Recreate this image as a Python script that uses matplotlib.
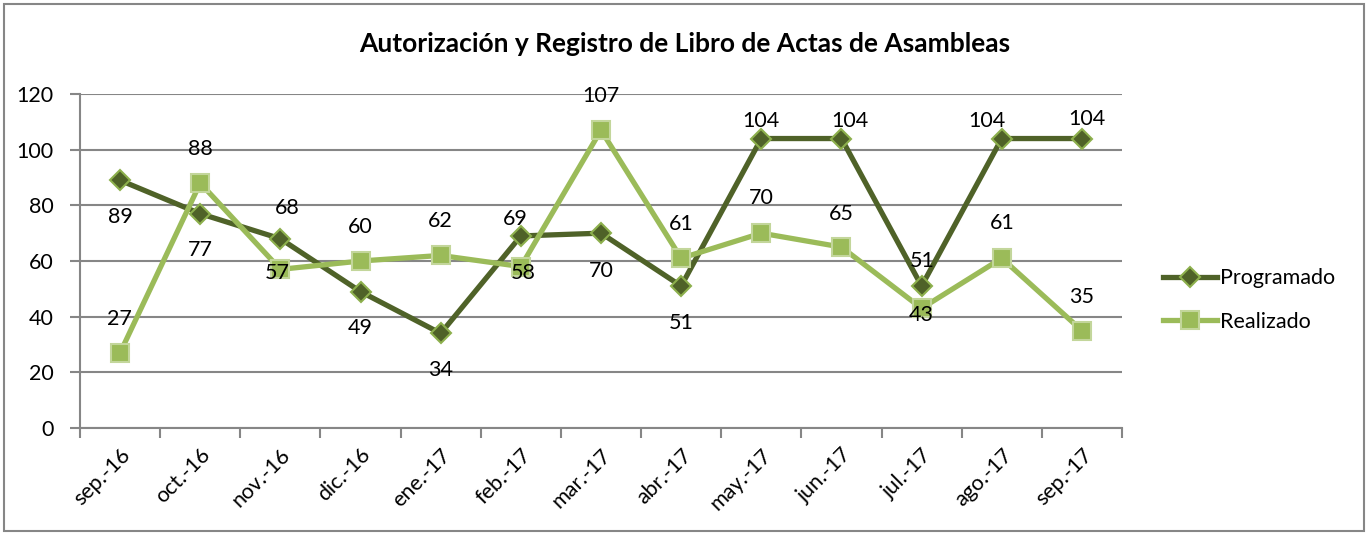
import matplotlib.pyplot as plt
from matplotlib.patches import Rectangle

meses = ["sep.-16", "oct.-16", "nov.-16", "dic.-16", "ene.-17", "feb.-17", "mar.-17",
         "abr.-17", "may.-17", "jun.-17", "jul.-17", "ago.-17", "sep.-17"]
programado = [89, 77, 68, 49, 34, 69, 70, 51, 104, 104, 51, 104, 104]
realizado = [27, 88, 57, 60, 62, 58, 107, 61, 70, 65, 43, 61, 35]

# desplazamiento de etiquetas (pixeles, x / y hacia arriba)
off_prog = [(0, -37), (0, -36), (7, 31), (0, -36), (0, -37), (-6, 17), (0, -38),
            (0, -37), (0, 18), (8, 18), (1, 25), (-15, 18), (5, 20)]
off_real = [(-1, 34), (0, 34), (-3, -4), (0, 34), (0, 34), (2, -6), (0, 34),
            (0, 34), (0, 35), (0, 33), (0, -7), (0, 35), (0, 34)]

plt.rcParams['font.family'] = ['Lato', 'DejaVu Sans']

oscuro = "#4F6228"
claro = "#9BBB59"
gris = "#868686"

fig = plt.figure(figsize=(13.68, 5.35), dpi=100)
ax = fig.add_axes([80 / 1368, 107 / 535, 1042 / 1368, 334 / 535])

x = [i + 0.5 for i in range(len(meses))]
ax.plot(x, programado, color=oscuro, lw=3.8, marker="D", ms=10,
        mfc=oscuro, mec="#8DB04D", mew=1.5, label="Programado", zorder=3)
ax.plot(x, realizado, color=claro, lw=3.8, marker="s", ms=13,
        mfc=claro, mec="#C3D69B", mew=1.5, label="Realizado", zorder=4)

for i in range(len(x)):
    ax.annotate(str(programado[i]), (x[i], programado[i]), xytext=off_prog[i],
                textcoords="offset pixels", ha="center", va="center",
                fontsize=15.5, color="black", zorder=6)
    ax.annotate(str(realizado[i]), (x[i], realizado[i]), xytext=off_real[i],
                textcoords="offset pixels", ha="center", va="center",
                fontsize=15.5, color="black", zorder=6)

ax.set_xlim(0, len(meses))
ax.set_ylim(0, 120)
ax.set_yticks(range(0, 121, 20))
ax.set_xticks(range(len(meses) + 1))
ax.set_xticklabels([])
ax.set_xticks(x, minor=True)
ax.set_xticklabels(meses, minor=True, rotation=45, ha="right", va="top",
                   rotation_mode="anchor", fontsize=15.5)
ax.tick_params(axis="x", which="minor", length=0, pad=12)
ax.tick_params(axis="x", which="major", length=7, width=1.5, color=gris)
ax.tick_params(axis="y", length=7, width=1.5, color=gris, labelsize=15.5, pad=12)

ax.grid(axis="y", color=gris, lw=1.5)
ax.set_axisbelow(True)
for s in ["top", "right"]:
    ax.spines[s].set_visible(False)
for s in ["left", "bottom"]:
    ax.spines[s].set_color(gris)
    ax.spines[s].set_linewidth(1.5)

fig.text(685 / 1368, 1 - 44 / 535, "Autorización y Registro de Libro de Actas de Asambleas",
         ha="center", va="center", fontsize=19, fontweight="bold")

ax.legend(loc="center left", bbox_to_anchor=(1144 / 1368, 1 - 300 / 535),
          bbox_transform=fig.transFigure, frameon=False, fontsize=15.5,
          handlelength=2.5, labelspacing=1.1, handletextpad=0.15)

fig.patches.append(Rectangle((4 / 1368, 4 / 535), 1360 / 1368, 527 / 535,
                             transform=fig.transFigure, fill=False,
                             edgecolor=gris, lw=1.5))

fig.savefig("out.png", dpi=100)
